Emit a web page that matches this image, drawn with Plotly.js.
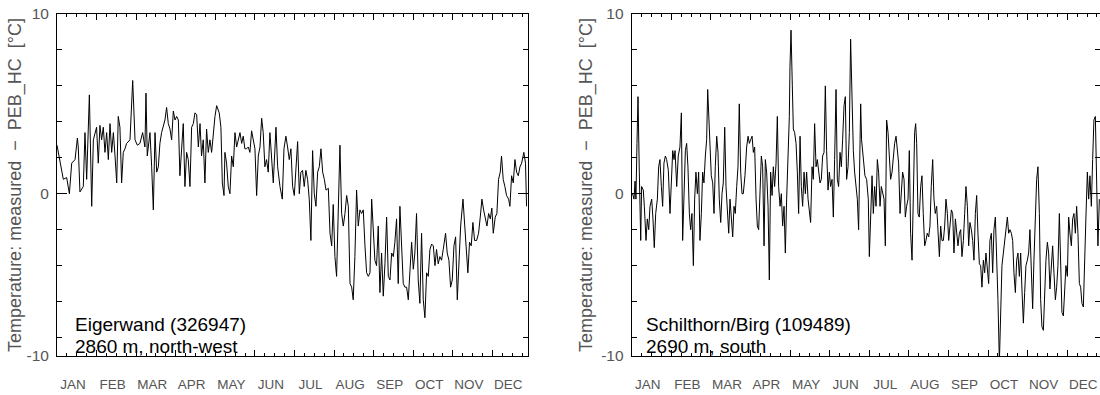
<!DOCTYPE html>
<html>
<head>
<meta charset="utf-8">
<script src="https://cdn.plot.ly/plotly-3.0.1.min.js"></script>
<style>html,body{margin:0;padding:0;background:#fff;}#chart{width:1100px;height:395px;}</style>
</head>
<body>
<div id="chart"></div>
<script>
// ---- data (day of year, temperature difference measured - PEB_HC in °C) ----
const months = ["JAN","FEB","MAR","APR","MAY","JUN","JUL","AUG","SEP","OCT","NOV","DEC"];
const yTickVals = [-9.03, 0, 10];
const yTickText = ["-10", "0", "10"];
const yMinorVals = [-8, -6, -4, -2, 2, 4, 6, 8];

const days1 = [0,2.3,4.9,7.5,9.6,11.4,14.0,15.8,16.5,17.8,20.4,21.7,23.0,25.1,26.9,28.2,30.7,32.0,33.3,34.6,35.9,37.2,38.5,39.8,41.1,42.4,43.7,45.0,46.3,47.5,48.8,50.1,51.4,52.7,54.0,56.6,58.7,60.5,62.3,64.3,66.4,68.2,69.0,70.0,72.1,73.4,74.7,76.0,77.3,78.6,79.8,81.1,82.4,83.7,85.0,86.3,87.6,88.9,90.2,91.5,92.8,94.1,95.3,96.6,97.9,99.2,100.5,101.8,103.1,104.4,105.7,107.0,108.3,109.6,110.9,112.1,113.4,114.7,116.0,117.3,118.6,119.9,121.2,122.5,123.8,125.8,127.1,128.2,129.5,130.2,131.5,132.8,134.1,135.4,136.7,138.0,139.3,140.6,141.9,143.2,144.4,145.7,147.0,148.3,149.6,150.9,152.2,153.5,154.8,156.1,157.4,158.7,159.9,161.2,162.5,163.8,165.1,166.4,167.7,169.8,171.1,172.9,174.7,176.0,177.5,178.8,180.1,181.4,182.7,184.0,185.3,186.6,187.9,189.1,190.4,191.7,193.0,194.3,195.6,196.9,198.2,199.5,200.8,202.1,203.4,204.7,206.0,207.3,208.6,210.4,211.7,213.0,214.2,215.5,216.8,218.1,219.4,220.7,222.0,223.3,224.6,225.9,227.2,228.5,229.7,231.0,232.3,233.6,234.9,236.2,237.5,238.8,240.1,241.4,242.7,244.0,245.2,246.5,247.8,249.1,250.4,251.7,253.0,254.3,255.6,256.9,258.2,259.5,260.8,262.0,263.3,264.6,265.9,267.2,268.5,269.8,271.1,272.4,273.7,275.0,276.3,277.5,278.8,280.1,281.4,282.7,284.0,285.3,286.6,287.9,289.2,290.5,291.8,293.1,294.3,295.6,296.9,298.2,299.5,301.3,302.6,303.9,305.2,306.5,307.8,309.1,310.4,311.7,313.0,314.8,316.1,317.3,318.6,319.9,321.2,322.5,323.8,325.4,326.9,328.2,329.5,330.8,332.1,333.4,334.7,336.0,337.2,338.3,339.8,341.1,342.4,343.7,344.7,346.0,347.3,348.6,350.2,351.2,352.5,353.8,355.1,356.4,357.7,359.0,360.3,362.0,363.3,364.1];
const temp1 = [2.7,1.9,0.8,0.9,0.0,1.7,1.9,3.1,2.6,0.1,0.4,3.4,0.8,5.5,-0.7,3.0,3.7,1.7,3.8,3.0,3.7,2.3,3.4,1.9,3.9,2.3,3.4,2.1,0.6,4.3,3.7,0.6,2.3,2.5,2.8,3.0,6.3,3.0,2.7,2.8,3.4,2.6,5.6,2.1,3.4,1.5,-0.9,3.4,1.2,1.5,2.8,3.4,3.7,4.1,4.8,3.9,3.6,3.0,4.6,4.1,4.3,4.1,1.0,2.3,3.9,0.4,2.3,1.9,0.4,3.7,3.9,4.5,4.4,2.6,3.9,2.1,3.0,0.6,3.6,2.3,3.0,2.3,3.4,4.3,4.9,4.5,3.7,0.6,-0.1,2.3,1.7,0.4,0.0,2.1,1.5,3.4,2.6,3.0,3.4,2.8,3.2,2.5,2.5,2.6,2.3,3.5,3.0,2.5,-0.1,2.1,2.6,4.2,3.4,1.5,1.9,1.2,3.4,1.9,0.6,3.7,1.5,0.4,-0.3,2.5,3.2,2.6,1.9,2.5,0.4,-0.1,1.2,2.9,0.0,1.2,1.3,0.4,1.3,0.8,-0.3,-2.6,2.4,0.0,-0.7,1.2,1.5,2.5,1.2,0.8,0.2,0.3,-2.2,-2.9,-0.6,-3.5,-4.6,-0.3,2.7,-1.1,-1.8,-1.1,-0.1,-0.7,-5.0,-5.2,-5.9,-3.5,0.2,-1.8,-0.9,-1.1,-0.9,-2.9,-4.4,-4.6,-4.4,-0.3,-2.2,-3.7,-4.0,-1.8,-5.5,-3.3,-5.7,-3.9,-1.3,-4.6,-4.8,-3.3,-3.5,-2.7,-1.4,-5.0,-0.7,-2.6,-5.0,-5.2,-5.2,-5.9,-3.9,-2.7,-4.2,-3.3,-1.1,-4.8,-6.1,-2.2,-5.9,-6.9,-4.4,-4.6,-3.1,-2.8,-2.9,-4.0,-3.1,-3.9,-3.5,-3.7,-3.1,-2.2,-3.3,-3.7,-5.2,-4.8,-2.9,-2.4,-5.9,-3.3,-1.8,-0.3,-1.8,-3.3,-4.4,-2.7,-2.9,-1.6,-2.6,-2.6,-2.2,-1.3,-0.3,-0.9,-1.3,-1.8,-1.1,-1.4,-0.8,-2.2,-1.3,-1.1,0.8,1.2,2.1,0.8,0.4,-0.1,-0.3,-0.7,1.0,0.6,1.9,1.2,1.0,1.5,1.7,2.3,1.7,-0.7];

const days2 = [0.7,1.8,2.6,3.3,4.1,4.9,5.9,7.0,7.7,9.0,9.8,11.1,12.1,13.2,14.2,15.5,16.5,17.5,18.6,19.9,20.9,21.9,23.0,24.0,25.0,26.1,27.1,28.4,29.7,31.0,31.8,32.8,33.6,34.9,36.1,37.4,38.5,39.5,40.5,41.6,42.6,43.6,44.7,45.7,46.7,47.8,48.8,49.8,50.9,51.9,52.9,54.0,55.0,56.0,57.1,58.1,58.9,59.9,60.7,61.7,62.8,63.8,64.8,65.9,66.9,67.9,69.0,70.0,71.0,72.1,73.1,74.1,75.2,76.2,77.2,78.3,79.3,80.3,81.4,82.4,83.4,84.5,85.5,86.5,87.8,89.1,90.2,91.2,92.2,93.3,94.3,95.3,96.4,97.4,98.4,99.5,100.5,101.5,102.6,103.6,104.6,105.7,106.7,107.7,108.8,109.8,110.8,111.9,112.9,113.9,115.0,116.0,117.0,118.1,119.1,120.1,121.2,122.2,122.7,123.5,124.5,125.3,126.3,127.4,128.4,129.4,130.5,131.5,132.5,133.6,134.6,135.6,136.7,137.7,138.7,139.8,140.8,141.8,142.9,143.9,144.9,146.0,147.0,148.0,149.1,150.1,151.1,152.2,153.2,154.2,155.3,156.3,157.3,158.4,159.4,160.4,161.5,162.5,163.5,164.6,165.6,166.6,167.7,168.7,169.7,170.8,171.8,172.8,173.9,174.9,175.9,177.5,178.2,179.5,180.8,182.1,183.4,184.2,185.2,186.3,187.3,188.3,189.4,190.4,191.4,192.5,193.5,194.5,195.6,196.6,197.6,198.7,199.7,200.7,201.8,202.8,203.8,204.9,205.9,206.9,208.0,209.0,210.0,211.1,212.1,213.1,214.2,215.2,216.2,217.3,218.3,219.3,220.1,220.9,221.9,222.9,224.0,225.0,226.0,227.1,228.1,229.1,230.2,231.2,232.2,233.3,234.3,235.3,236.4,237.4,238.5,239.5,240.5,241.6,242.6,243.6,244.7,245.7,246.7,247.8,248.8,249.8,250.9,251.9,252.9,254.0,255.0,256.0,257.1,258.1,259.1,260.2,261.2,262.2,263.3,264.3,265.3,266.4,267.4,268.4,269.5,270.5,271.5,272.6,273.6,274.6,275.7,276.7,277.7,278.8,279.8,280.8,281.9,282.9,283.9,285.0,286.0,287.0,288.1,289.1,290.1,291.2,292.2,293.2,294.3,295.3,296.3,297.4,298.4,299.4,300.5,301.5,302.5,303.6,304.6,305.6,306.7,307.7,308.7,309.8,310.8,311.8,312.9,313.9,314.9,316.0,317.0,318.0,319.1,320.1,321.1,322.2,323.2,324.2,325.3,326.3,327.3,328.4,329.4,330.4,331.5,332.5,333.5,334.6,335.6,336.6,337.7,338.7,339.7,340.8,341.8,342.8,343.9,344.9,345.9,347.0,348.0,349.0,350.1,351.1,352.1,353.2,354.2,355.2,356.3,357.3,358.3,359.4,360.4,361.4,362.5];
const temp2 = [0.0,-0.3,0.7,-0.3,2.8,5.4,1.2,-2.6,0.4,0.2,-0.7,-2.6,-1.4,-2.0,-0.7,-0.3,-1.4,-3.0,-1.1,-0.3,1.5,1.9,0.4,-0.7,1.7,2.1,1.9,1.3,-1.1,1.3,2.4,1.9,2.4,0.4,2.1,2.6,4.5,-2.6,0.6,2.4,2.8,1.5,-1.1,-2.0,-1.1,-4.0,-0.3,1.2,0.0,1.2,-2.6,-1.1,1.2,0.6,2.1,3.0,5.8,4.3,2.3,1.0,0.6,-1.1,1.5,3.2,2.3,-0.3,-1.6,0.0,0.6,3.7,0.4,-1.1,-2.2,-0.3,-1.3,-2.4,-0.7,-1.1,0.4,1.5,5.0,1.2,0.0,0.0,1.0,2.6,3.2,2.8,3.0,3.2,2.3,2.6,-0.3,-1.8,-2.0,0.0,2.1,1.5,-2.9,1.9,1.2,-0.7,-4.8,1.2,-0.1,1.5,0.4,1.7,4.3,0.4,-0.7,0.0,-1.8,-0.7,-3.3,-0.3,1.7,4.3,7.1,9.1,6.0,3.6,3.4,2.8,1.2,-1.1,3.2,0.4,-0.7,1.2,0.0,1.2,-0.3,-1.1,-1.6,1.5,0.8,3.9,1.5,1.9,1.2,0.6,0.8,2.1,2.3,6.0,2.4,0.2,1.2,0.4,0.8,-1.3,1.9,5.8,0.8,0.4,2.3,1.5,3.0,4.9,5.4,0.8,1.5,3.4,8.6,5.2,2.4,1.2,0.4,-0.3,-2.0,5.0,3.0,1.9,1.0,0.8,-0.3,-3.5,-0.7,1.0,-1.1,0.4,-0.7,1.9,1.2,-0.7,0.4,0.0,-0.3,-2.9,4.1,3.4,1.9,0.8,1.2,2.1,2.8,3.2,2.4,1.7,-1.1,0.0,1.2,0.8,-1.3,-0.7,-0.3,2.4,-2.2,-3.7,0.4,3.4,3.9,2.8,-1.1,-1.3,0.4,1.0,-1.1,-2.9,-2.6,-2.2,-2.4,-1.8,0.4,1.9,-0.3,-1.1,-0.7,-2.2,-3.5,-1.8,-2.6,-2.6,-1.8,-0.3,-1.1,-2.6,-1.8,-0.9,-1.1,-3.3,-1.4,-2.2,-2.9,-2.2,-2.0,-3.5,-2.6,-1.1,0.4,-0.7,-2.9,-1.6,-2.0,-2.6,-3.7,-1.1,-0.1,-2.2,-3.9,-4.0,-5.2,-3.7,-4.4,-3.3,-4.0,-5.0,-2.6,-2.2,-4.4,-2.0,-1.3,-3.3,-5.9,-9.4,-6.4,-4.0,-3.3,-2.6,-2.2,-1.3,-2.2,-2.0,-2.2,-2.6,-4.4,-5.5,-3.7,-3.3,-4.6,-3.3,-5.3,-7.2,-5.5,-4.0,-3.7,-3.3,-2.0,-4.4,-6.4,-3.7,-0.7,0.8,1.5,-1.1,-5.9,-7.4,-7.6,-5.2,-3.7,-2.7,-3.3,-5.3,-4.0,-2.9,-4.4,-5.9,-5.2,-4.0,-1.1,-4.4,-6.6,-6.8,-5.2,-4.0,-4.6,-1.3,-2.2,-2.9,-1.4,-1.1,-2.2,-0.7,-2.2,-5.0,-5.2,-6.1,-6.3,-3.3,-1.3,1.2,-0.3,1.0,-0.7,1.9,4.1,4.3,1.5,-2.9,-0.3];

// ---- styling ----
const monthLen = 365 / 12 * 1.009;   // spacing of the month ticks on the original axis
const monthStarts = months.map((m, i) => i * monthLen);
const FONT = "Liberation Sans, Arial, Helvetica, sans-serif";
const NARROW = "Liberation Sans Narrow, Arial Narrow, Liberation Sans, Arial, sans-serif";
const GREY = "#555555";
const yTitle = "Temperature: measured \u00a0\u2212\u00a0 PEB_HC \u00a0[°C]";

function frameX(domain, range, anchor) {
  return {
    domain: domain, range: range, anchor: anchor,
    tickmode: "array", tickvals: monthStarts, ticktext: months,
    ticklabelshift: 16, ticklabelstandoff: 16,
    tickfont: {family: NARROW, size: 13.5, color: GREY},
    ticks: "inside", ticklen: 6, tickwidth: 1, tickcolor: "#000",
    mirror: "ticks",
    showline: true, linecolor: "#000", linewidth: 1,
    showgrid: false, zeroline: false, fixedrange: true,
    minor: {tickmode: "linear", tick0: 0, dtick: monthLen / 4, ticks: "inside", ticklen: 3, tickwidth: 1, tickcolor: "#000", showgrid: false}
  };
}
function frameY(anchor, standoff) {
  return {
    domain: [0, 1], anchor: anchor, range: [-9.03, 10],
    tickmode: "array", tickvals: yTickVals, ticktext: yTickText,
    ticks: "inside", ticklen: 10, tickwidth: 1, tickcolor: "#000",
    mirror: "ticks", showline: true, linecolor: "#000", linewidth: 1,
    showgrid: false, zeroline: false, fixedrange: true,
    ticklabelstandoff: 4,
    tickfont: {family: FONT, size: 15.5, color: GREY},
    minor: {tickmode: "array", tickvals: yMinorVals, ticks: "inside", ticklen: 5, tickwidth: 1, tickcolor: "#000", showgrid: false},
    title: {text: yTitle, font: {family: FONT, size: 18, color: GREY}, standoff: standoff}
  };
}

const traces = [
  {x: days1, y: temp1, xaxis: "x", yaxis: "y", type: "scatter", mode: "lines",
   line: {color: "#000", width: 1}, hoverinfo: "skip", showlegend: false},
  {x: days2, y: temp2, xaxis: "x2", yaxis: "y2", type: "scatter", mode: "lines",
   line: {color: "#000", width: 1}, hoverinfo: "skip", showlegend: false}
];

const annFont = {family: FONT, size: 19, color: "#000"};
const layout = {
  width: 1100, height: 395,
  margin: {l: 57, r: 0, t: 14, b: 38.5, pad: 0},
  paper_bgcolor: "#fff", plot_bgcolor: "#fff",
  showlegend: false,
  xaxis: frameX([0, 0.4513], [0, 365], "y"),
  xaxis2: frameX([0.5510, 1], [0, 363], "y2"),
  yaxis: frameY("x", 0), yaxis2: frameY("x2", 3),
  annotations: [
    {text: "Eigerwand (326947)", xref: "x domain", yref: "y domain", x: 0.035, y: 0.092, xanchor: "left", yanchor: "middle", showarrow: false, font: annFont},
    {text: "2860 m, north-west", xref: "x domain", yref: "y domain", x: 0.035, y: 0.027, xanchor: "left", yanchor: "middle", showarrow: false, font: annFont},
    {text: "Schilthorn/Birg (109489)", xref: "x2 domain", yref: "y2 domain", x: 0.026, y: 0.092, xanchor: "left", yanchor: "middle", showarrow: false, font: annFont},
    {text: "2690 m, south", xref: "x2 domain", yref: "y2 domain", x: 0.026, y: 0.027, xanchor: "left", yanchor: "middle", showarrow: false, font: annFont}
  ]
};

Plotly.newPlot("chart", traces, layout, {staticPlot: true, displayModeBar: false});
</script>
</body>
</html>
